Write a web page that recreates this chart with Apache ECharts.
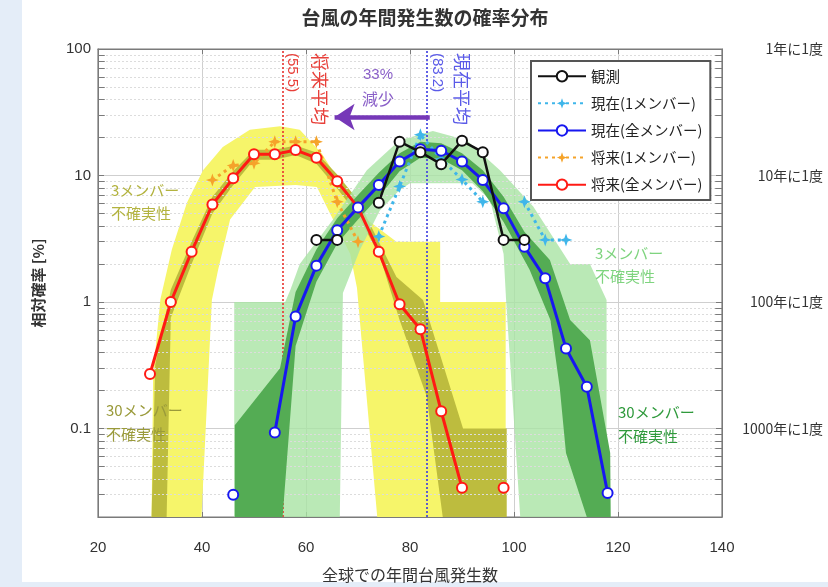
<!DOCTYPE html>
<html><head><meta charset="utf-8">
<script src="https://cdn.jsdelivr.net/npm/echarts@6/dist/echarts.min.js"></script>
<style>html,body{margin:0;padding:0;background:#e4edf8;}#c{width:828px;height:587px;}</style>
</head><body><div id="c"></div>
<script>
// ---------- ticks ----------
const xTicks = [20, 40, 60, 80, 100, 120, 140];
const yMajor = [0.1, 1, 10, 100];
const yLeftLabels = ['0.1', '1', '10', '100'];
const yRightLabels = ['1000年に1度', '100年に1度', '10年に1度', '1年に1度'];
const yMinor = [0.03,0.04,0.05,0.06,0.07,0.08,0.09,0.2,0.3,0.4,0.5,0.6,0.7,0.8,0.9,2,3,4,5,6,7,8,9,20,30,40,50,60,70,80,90];

// ---------- series values ----------
const obsX = [62, 66, 70, 74, 78, 82, 86, 90, 94, 98, 102];
const obsY = [3.1, 3.1, null, 6.1, 18.5, 15.3, 12.3, 18.8, 15.3, 3.1, 3.1];
const presOneX = [74, 78, 82, 86, 90, 94, 98, 102, 106, 110];
const presOneY = [3.3, 8.2, 21, 13.5, 9.3, 6.2, null, 6.2, 3.1, 3.1];
const presAllX = [46, 50, 54, 58, 62, 66, 70, 74, 78, 82, 86, 90, 94, 98, 102, 106, 110, 114, 118];
const presAllY = [0.03, null, 0.093, 0.77, 1.94, 3.7, 5.6, 8.4, 12.9, 16.1, 15.7, 12.9, 9.2, 5.5, 2.74, 1.54, 0.43, 0.214, 0.031];
const futOneX = [42, 46, 50, 54, 58, 62, 66, 70];
const futOneY = [9.2, 12, 12.5, 18.5, 18.5, 18.5, 6.2, 3.0];
const futAllX = [30, 34, 38, 42, 46, 50, 54, 58, 62, 66, 70, 74, 78, 82, 86, 90, 94, 98];
const futAllY = [0.27, 1.0, 2.5, 5.9, 9.5, 14.7, 14.7, 15.9, 13.8, 9.0, 5.6, 2.5, 0.96, 0.61, 0.137, 0.034, null, 0.034];

// means
const futMean = 55.5;
const presMean = 83.2;

// ---------- uncertainty bands (upper edge / lower edge, [x, %]) ----------
const fut3Hi = [[30.3,0.02],[30.6,0.27],[32,1.05],[34.2,2.6],[37.1,6.1],[40.2,11],[44,16.8],[49.2,23],[55,24.5],[58.8,23],[63,15],[67.1,8.1],[71.7,4.5],[77.4,3.0],[85.8,3.0],[85.8,1.0],[98.4,1.0],[98.4,0.02]];
const fut3Lo = [[39.9,0.02],[41.9,1.04],[43.1,1.8],[45.4,4.5],[50.2,8.1],[58,8.4],[62.1,8.1],[68.5,2.4],[69.8,1.3],[73.7,0.02]];
const fut30Hi = [[30.3,0.02],[31,0.32],[34,1.25],[38,3.0],[42,6.8],[46,10.8],[50,16],[54,16],[58,17.3],[62,15.2],[66,10.2],[70,6.4],[74,3.0],[77.4,1.58],[82.5,1.04],[90.2,0.1],[98.6,0.1],[98.6,0.02]];
const fut30Lo = [[33.2,0.02],[34,0.75],[38,2.0],[42,5.0],[46,8.4],[50,13.3],[54,13.3],[58,14.5],[62,12.4],[66,7.9],[70,4.8],[74.2,2.3],[78,0.72],[83.2,0.18],[86.3,0.02]];
const pres3Hi = [[46.2,0.02],[46.2,1.0],[56,1.0],[57,1.25],[58.8,2.0],[65.2,4.5],[71.7,11],[78,19],[84.4,22.5],[90.9,19],[97.3,11],[103.7,5.7],[110.8,2.0],[114.6,2.0],[117.8,1.04],[117.8,0.02]];
const pres3Lo = [[66.5,0.02],[67.1,1.18],[70.4,2.6],[74.2,5.3],[78,7.7],[80,8.7],[92,8.7],[95.4,6.4],[98,2.4],[98.5,1.0],[101.2,0.02]];
const pres30Hi = [[46.3,0.02],[46.3,0.106],[55,0.3],[58,1.2],[62,2.6],[66,4.6],[70,7],[74,10.5],[78,15],[82,18.5],[86,18],[90,15],[94,11],[98,6.8],[102,3.6],[106.9,2.15],[110.8,0.72],[114.6,0.5],[118.5,0.064],[118.6,0.02]];
const pres30Lo = [[55.5,0.02],[58,0.45],[62,1.45],[66,2.9],[70,4.5],[74,6.8],[78,10.8],[82,13.8],[86,13.5],[90,11],[94,7.5],[98,4.3],[103,1.8],[107,0.72],[108.8,0.21],[110,0.064],[114,0.02]];

// arrow (33% decrease)
const arrowFrom = [83.8, 29];
const arrowTo = [65.5, 29];

// ---------- helpers ----------
function pairs(xs, ys) { return xs.map((x, i) => [x, ys[i] == null ? '-' : ys[i]]); }
const CJK = "'Noto Sans CJK JP','Noto Sans',sans-serif";
const NUM = "'Liberation Sans','DejaVu Sans',sans-serif";
const STAR = 'path://M0,-10 L2.6,-2.6 L10,0 L2.6,2.6 L0,10 L-2.6,2.6 L-10,0 L-2.6,-2.6 Z';

function band(name, hi, lo, color, opacity, z) {
  const poly = hi.concat(lo.slice().reverse());
  return {
    type: 'custom', name: name, silent: true, z: z,
    data: poly, encode: { x: 0, y: 1 },
    renderItem: function (params, api) {
      if (params.dataIndex !== 0) return null;
      const pts = poly.map(p => api.coord(p));
      return { type: 'polygon', shape: { points: pts }, style: { fill: color, opacity: opacity, stroke: null } };
    }
  };
}

const chart = echarts.init(document.getElementById('c'), null, { renderer: 'canvas' });

function lineSeries(name, xs, ys, color, dotted, z) {
  return {
    type: 'line', name: name, data: pairs(xs, ys), z: z,
    symbol: dotted ? STAR : 'emptyCircle',
    symbolSize: dotted ? 13 : 10,
    showSymbol: true, connectNulls: false, animation: false,
    lineStyle: { color: color, width: 3, type: dotted ? [3, 4] : 'solid' },
    itemStyle: { color: color, borderWidth: dotted ? 0 : 2.6 },
    emphasis: { disabled: true }
  };
}

const minorLines = yMinor.map(v => ({ yAxis: v }));
const minorTicks = [];
yMinor.forEach(v => {
  minorTicks.push([{ coord: [20, v] }, { coord: [21.3, v] }]);
  minorTicks.push([{ coord: [138.7, v] }, { coord: [140, v] }]);
});

function fmtLabel(list) {
  return function (v) {
    for (let i = 0; i < yMajor.length; i++) {
      if (Math.abs(Math.log10(v) - Math.log10(yMajor[i])) < 1e-6) return list[i];
    }
    return '';
  };
}

const option = {
  animation: false,
  backgroundColor: 'transparent',
  textStyle: { fontFamily: CJK },
  grid: { left: 98, right: 106, top: 49, bottom: 70, containLabel: false, outerBoundsMode: 'none',
          show: true, borderColor: '#7a7a7a', borderWidth: 1.2, backgroundColor: '#fff' },
  xAxis: [{
    type: 'value', min: 20, max: 140, interval: 20,
    name: '全球での年間台風発生数', nameLocation: 'middle', nameGap: 50,
    nameTextStyle: { fontFamily: CJK, fontSize: 16, color: '#333' },
    axisLine: { show: true, lineStyle: { color: '#7a7a7a' } },
    axisTick: { show: true, inside: true, length: 5, lineStyle: { color: '#7a7a7a' } },
    axisLabel: { fontFamily: NUM, fontSize: 15, color: '#333', margin: 23 },
    splitLine: { show: true, lineStyle: { color: '#cfcfcf', width: 1 } }
  }, {
    type: 'value', min: 20, max: 140, interval: 20, position: 'top',
    axisLine: { show: true, lineStyle: { color: '#7a7a7a' } },
    axisTick: { show: true, inside: true, length: 5, lineStyle: { color: '#7a7a7a' } },
    axisLabel: { show: false }, splitLine: { show: false }
  }],
  yAxis: [{
    type: 'log', logBase: 10, min: 0.02, max: 100,
    name: '相対確率 [%]', nameLocation: 'middle', nameGap: 52, nameRotate: 90,
    nameTextStyle: { fontFamily: CJK, fontSize: 15, color: '#333', fontWeight: 'bold' },
    axisLine: { show: true, lineStyle: { color: '#7a7a7a' } },
    axisTick: { show: true, inside: true, length: 6, lineStyle: { color: '#7a7a7a' } },
    axisLabel: { fontFamily: NUM, fontSize: 15, color: '#333', margin: 7, formatter: fmtLabel(yLeftLabels) },
    splitLine: { show: true, lineStyle: { color: '#cfcfcf', width: 1 } }
  }, {
    type: 'log', logBase: 10, min: 0.02, max: 100, position: 'right',
    axisLine: { show: true, lineStyle: { color: '#7a7a7a' } },
    axisTick: { show: true, inside: true, length: 6, lineStyle: { color: '#7a7a7a' } },
    axisLabel: { fontFamily: CJK, fontSize: 14, color: '#333', margin: 101, align: 'right', formatter: fmtLabel(yRightLabels) },
    splitLine: { show: false }
  }],
  legend: {
    orient: 'vertical', left: 531, top: 61, z: 100,
    data: ['観測', '現在(1メンバー)', '現在(全メンバー)', '将来(1メンバー)', '将来(全メンバー)'],
    itemWidth: 48, itemHeight: 13, itemGap: 12.6,
    padding: [8, 8, 8, 6],
    backgroundColor: '#fff', borderColor: '#555', borderWidth: 2, borderRadius: 0,
    textStyle: { fontFamily: CJK, fontSize: 14.5, color: '#222' },
    selectedMode: false
  },
  series: [
    // helper: minor grid and minor ticks
    { type: 'line', name: 'grid-minor', data: [], silent: true, z: 1,
      markLine: { silent: true, symbol: 'none', label: { show: false }, animation: false,
        lineStyle: { color: '#dcdcdc', type: [2, 2], width: 1 }, data: minorLines } },
    { type: 'line', name: 'tick-minor', data: [], silent: true, z: 20,
      markLine: { silent: true, symbol: 'none', label: { show: false }, animation: false,
        lineStyle: { color: '#7a7a7a', type: 'solid', width: 1 }, data: minorTicks } },
    band('fut3', fut3Hi, fut3Lo, '#f6f56a', 1, 2),
    band('fut30', fut30Hi, fut30Lo, '#bdbc3e', 1, 3),
    band('pres3', pres3Hi, pres3Lo, '#a9e3a4', 0.8, 4),
    band('pres30', pres30Hi, pres30Lo, '#54ac54', 1, 5),
    lineSeries('将来(1メンバー)', futOneX, futOneY, '#f5a32a', true, 10),
    lineSeries('現在(1メンバー)', presOneX, presOneY, '#3fb6ea', true, 10),
    Object.assign(lineSeries('将来(全メンバー)', futAllX, futAllY, '#ff1a14', false, 12), {
      markLine: { silent: true, symbol: 'none', label: { show: false }, animation: false,
        lineStyle: { color: '#e8322e', type: [2, 2], width: 1.6 }, data: [{ xAxis: futMean }] }
    }),
    Object.assign(lineSeries('現在(全メンバー)', presAllX, presAllY, '#1717f0', false, 12), {
      markLine: { silent: true, symbol: 'none', label: { show: false }, animation: false,
        lineStyle: { color: '#3a3ae0', type: [2, 2], width: 1.6 }, data: [{ xAxis: presMean }] }
    }),
    Object.assign(lineSeries('観測', obsX, obsY, '#111111', false, 13), {
      lineStyle: { color: '#111', width: 2.5 },
      markLine: { silent: true, symbol: ['none', 'arrow'], symbolSize: 20, label: { show: false }, animation: false,
        lineStyle: { color: '#7638b8', type: 'solid', width: 4.5 },
        data: [[{ coord: arrowFrom }, { coord: arrowTo }]] }
    })
  ]
};
chart.setOption(option);

const pF = chart.convertToPixel({ xAxisIndex: 0, yAxisIndex: 0 }, [futMean, 100]);
const pP = chart.convertToPixel({ xAxisIndex: 0, yAxisIndex: 0 }, [presMean, 100]);
const R = -Math.PI / 2;
function txt(x, y, text, color, size, opts) {
  return Object.assign({ type: 'text', x: x, y: y, z: 50,
    style: Object.assign({ text: text, fill: color, fontSize: size, fontFamily: CJK, align: 'left', verticalAlign: 'middle' }, (opts && opts.style) || {}) },
    opts && opts.el ? opts.el : {});
}
chart.setOption({
  graphic: [
    { type: 'rect', shape: { x: 22, y: 0, width: 806, height: 582 }, style: { fill: '#fff' }, z: -10, silent: true },
    txt(425, 18, '台風の年間発生数の確率分布', '#333', 19, { style: { align: 'center', fontWeight: 'bold' } }),
    // mean labels (vertical)
    txt(pF[0] + 10, pF[1] + 4, '(55.5)', '#e8403a', 15, { el: { rotation: R }, style: { fontFamily: NUM } }),
    txt(pF[0] + 37, pF[1] + 4, '将来平均', '#e8403a', 18, { el: { rotation: R } }),
    txt(pP[0] + 11, pP[1] + 4, '(83.2)', '#5b5be8', 15, { el: { rotation: R }, style: { fontFamily: NUM } }),
    txt(pP[0] + 35, pP[1] + 4, '現在平均', '#5b5be8', 18, { el: { rotation: R } }),
    // decrease
    txt(378, 75, '33%', '#8a5fc8', 15, { style: { align: 'center', fontFamily: NUM } }),
    txt(378, 99, '減少', '#8a5fc8', 16, { style: { align: 'center' } }),
    // uncertainty labels
    txt(111, 190, '3メンバー', '#b3b33f', 15),
    txt(111, 213, '不確実性', '#b3b33f', 15),
    txt(106, 410, '30メンバー', '#9a9a3a', 15),
    txt(106, 434, '不確実性', '#9a9a3a', 15),
    txt(595, 253, '3メンバー', '#7fd47f', 15),
    txt(595, 276, '不確実性', '#7fd47f', 15),
    txt(618, 412, '30メンバー', '#2f9a3c', 15),
    txt(618, 436, '不確実性', '#2f9a3c', 15)
  ]
});
</script></body></html>
